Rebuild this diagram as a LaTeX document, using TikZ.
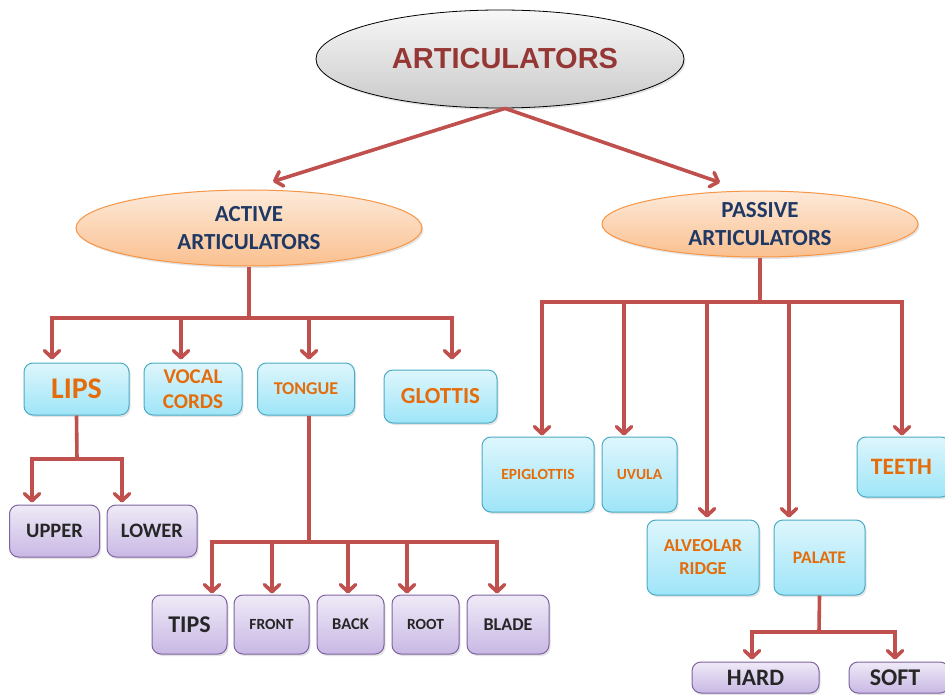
\documentclass[tikz,border=0pt]{standalone}
\usepackage{fontspec}
\setmainfont{Carlito}
\newfontfamily\headfont{Liberation Sans}
\usetikzlibrary{arrows.meta,shapes.geometric,shadows}

\definecolor{linkred}{HTML}{C0504D}
\definecolor{toptext}{HTML}{953735}
\definecolor{navytext}{HTML}{1F3864}
\definecolor{orangetext}{HTML}{E46C0A}
\definecolor{darktext}{HTML}{262626}
\definecolor{groupline}{HTML}{F79646}

\begin{document}
\begin{tikzpicture}[
            x=1pt, y=-1pt,
            Wire/.style={draw=linkred, line width=3.6pt},
            Link/.style={Wire, -{Straight Barb[length=7pt, width=15pt, round]}},
            Shade/.style={drop shadow={shadow xshift=1.5pt, shadow yshift=-2pt, opacity=0.22}},
            TopEllipse/.style={ellipse, draw=black, line width=0.8pt, Shade,
                top color=gray!6, bottom color=gray!42, inner sep=0pt,
                minimum width=368pt, minimum height=98pt, text=toptext,
                font=\headfont\bfseries\fontsize{29}{34}\selectfont},
            GroupEllipse/.style={ellipse, draw=groupline, line width=1pt, Shade,
                top color={rgb,255:red,253;green,234;blue,218},
                bottom color={rgb,255:red,250;green,192;blue,143},
                inner sep=0pt, align=center, text=navytext,
                font=\bfseries\fontsize{23}{28}\selectfont},
            PartBox/.style={draw={rgb,255:red,75;green,172;blue,198}, line width=1pt,
                rounded corners=9pt, Shade, inner sep=0pt, align=center,
                top color={rgb,255:red,222;green,246;blue,252},
                bottom color={rgb,255:red,158;green,229;blue,248},
                text=orangetext},
            SubBox/.style={draw={rgb,255:red,128;green,100;blue,162}, line width=1pt,
                rounded corners=9pt, Shade, inner sep=0pt, align=center,
                top color={rgb,255:red,239;green,234;blue,247},
                bottom color={rgb,255:red,200;green,184;blue,228},
                text=darktext},
            Sz/.style={font=\bfseries\fontsize{#1}{#1}\selectfont},
            ]
            \useasboundingbox[fill=white] (0,0) rectangle (945,695);

            % root and the two groups
            \node[TopEllipse] (top) at (500,59) {\hspace{10pt}ARTICULATORS};
            \node[GroupEllipse, minimum width=346pt, minimum height=76pt] (active) at (249,228) {ACTIVE\\ARTICULATORS};
            \node[GroupEllipse, minimum width=316pt, minimum height=66pt] (passive) at (760,224) {PASSIVE\\ARTICULATORS};

            % active articulators
            \node[PartBox, Sz=30, minimum width=105pt, minimum height=52pt] (lips) at (76.5,389) {LIPS};
            \node[PartBox, font=\bfseries\fontsize{21}{25}\selectfont, minimum width=98pt, minimum height=52pt] (vocal) at (193,389) {VOCAL\\CORDS};
            \node[PartBox, Sz=18, minimum width=97pt, minimum height=52pt] (tongue) at (306,389) {TONGUE};
            \node[PartBox, Sz=23, minimum width=113pt, minimum height=53pt] (glottis) at (440.5,396.5) {GLOTTIS};

            \node[SubBox, Sz=20.5, minimum width=90pt, minimum height=52pt] (upper) at (54.5,531) {UPPER};
            \node[SubBox, Sz=20.5, minimum width=90pt, minimum height=52pt] (lower) at (152,531) {LOWER};

            \node[SubBox, Sz=24, minimum width=75pt, minimum height=59pt] (tips) at (189.5,624.5) {TIPS};
            \node[SubBox, Sz=15.5, minimum width=75pt, minimum height=59pt] (front) at (271.5,624.5) {FRONT};
            \node[SubBox, Sz=16.5, minimum width=67pt, minimum height=59pt] (back) at (350.5,624.5) {BACK};
            \node[SubBox, Sz=15.5, minimum width=67pt, minimum height=59pt] (root) at (425.5,624.5) {ROOT};
            \node[SubBox, Sz=18, minimum width=82pt, minimum height=59pt] (blade) at (508,624.5) {BLADE};

            % passive articulators
            \node[PartBox, Sz=15.5, minimum width=112pt, minimum height=75pt] (epiglottis) at (538,474.5) {EPIGLOTTIS};
            \node[PartBox, Sz=15.5, minimum width=75pt, minimum height=75pt] (uvula) at (639.5,474.5) {UVULA};
            \node[PartBox, font=\bfseries\fontsize{18.3}{23}\selectfont, minimum width=112pt, minimum height=75pt] (alveolar) at (703,557.5) {ALVEOLAR\\RIDGE};
            \node[PartBox, Sz=17.7, minimum width=91pt, minimum height=75pt] (palate) at (819.5,557.5) {PALATE};
            \node[PartBox, Sz=23.5, minimum width=93pt, minimum height=60pt] (teeth) at (903.5,467) {\hspace{-4pt}TEETH};

            \node[SubBox, Sz=23.5, minimum width=127pt, minimum height=31pt] (hard) at (755.5,677.5) {HARD};
            \node[SubBox, Sz=24, minimum width=100pt, minimum height=31pt] (soft) at (899,677.5) {\hspace{-8pt}SOFT};

            % branch points
            \coordinate (actbar) at (249,318);
            \coordinate (lipsbar) at (77,459);
            \coordinate (tongbar) at (309,542);
            \coordinate (passbar) at (760,302);
            \coordinate (palbar) at (819,632);

            \draw[Link] ([xshift=5pt]top.south) -- ([xshift=24pt,yshift=8pt]active.north);
            \draw[Link] ([xshift=5pt]top.south) -- ([xshift=-40pt,yshift=8pt]passive.north);

            \draw[Wire] (active.south) -- (actbar);
            \draw[Link] (actbar) -| ([xshift=-24.5pt,yshift=3pt]lips.north);
            \draw[Link] (actbar) -| ([xshift=-12pt,yshift=3pt]vocal.north);
            \draw[Link] (actbar) -| ([xshift=3pt,yshift=3pt]tongue.north);
            \draw[Link] (actbar) -| ([xshift=11.5pt,yshift=10pt]glottis.north);

            \draw[Wire] (lips.south) -- (lipsbar);
            \draw[Link] (lipsbar) -| ([xshift=-22.5pt,yshift=2pt]upper.north);
            \draw[Link] (lipsbar) -| ([xshift=-30pt,yshift=2pt]lower.north);

            \draw[Wire] ([xshift=3pt]tongue.south) -- (tongbar);
            \draw[Link] (tongbar) -| ([xshift=22.5pt,yshift=1pt]tips.north);
            \draw[Link] (tongbar) -| ([xshift=0.5pt,yshift=1pt]front.north);
            \draw[Link] (tongbar) -| ([xshift=-2.5pt,yshift=1pt]back.north);
            \draw[Link] (tongbar) -| ([xshift=-18.5pt,yshift=1pt]root.north);
            \draw[Link] (tongbar) -| ([xshift=-11pt,yshift=1pt]blade.north);

            \draw[Wire] (passive.south) -- (passbar);
            \draw[Link] (passbar) -| ([xshift=4pt,yshift=1pt]epiglottis.north);
            \draw[Link] (passbar) -| ([xshift=-15.5pt,yshift=1pt]uvula.north);
            \draw[Link] (passbar) -| ([xshift=4pt,yshift=2pt]alveolar.north);
            \draw[Link] (passbar) -| ([xshift=-30.5pt,yshift=2pt]palate.north);
            \draw[Link] (passbar) -| ([xshift=-1.5pt,yshift=1pt]teeth.north);

            \draw[Wire] (palate.south) -- (palbar);
            \draw[Link] (palbar) -| ([xshift=-3.5pt,yshift=2pt]hard.north);
            \draw[Link] (palbar) -| ([xshift=-4pt,yshift=2pt]soft.north);
        \end{tikzpicture}
\end{document}
